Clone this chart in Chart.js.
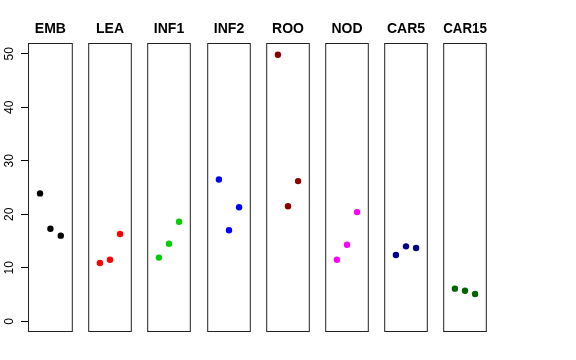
<!DOCTYPE html>
<html>
<head>
<meta charset="utf-8">
<script src="https://cdn.jsdelivr.net/npm/chart.js@4/dist/chart.umd.min.js"></script>
<style>
  html, body { margin: 0; padding: 0; background: #fff; }
  #wrap { position: relative; width: 576px; height: 360px; overflow: hidden; }
  #wrap canvas { position: absolute; top: 0; }
</style>
</head>
<body>
<div id="wrap"></div>
<script>
const groups = ["EMB", "LEA", "INF1", "INF2", "ROO", "NOD", "CAR5", "CAR15"];
const colors = ["#000000", "#FF0000", "#00CD00", "#0000FF", "#8B0000", "#FF00FF", "#00008B", "#006400"];
const xPositions = [1, 2, 3];
const embValues = [23.9, 17.3, 16.0];
const leaValues = [10.9, 11.5, 16.3];
const inf1Values = [11.9, 14.5, 18.6];
const inf2Values = [26.5, 17.0, 21.3];
const rooValues = [49.8, 21.5, 26.2];
const nodValues = [11.5, 14.3, 20.4];
const car5Values = [12.4, 14.0, 13.7];
const car15Values = [6.1, 5.7, 5.1];
const yTicks = [0, 10, 20, 30, 40, 50];

const series = [embValues, leaValues, inf1Values, inf2Values, rooValues, nodValues, car5Values, car15Values];

const font = "'Liberation Sans', Arial, Helvetica, sans-serif";

// frame round each panel
const boxPlugin = {
  id: "box",
  afterDraw(chart) {
    const a = chart.chartArea;
    const ctx = chart.ctx;
    ctx.save();
    ctx.strokeStyle = "#222";
    ctx.lineWidth = 1;
    ctx.strokeRect(a.left + 0.5, a.top + 0.5, a.right - a.left - 1, a.bottom - a.top - 1);
    ctx.restore();
  },
};

const wrap = document.getElementById("wrap");

groups.forEach(function (name, i) {
  const first = i === 0;
  const axisW = 28;
  const panelW = 46;
  const canvas = document.createElement("canvas");
  const left = first ? 0 : Math.round(axisW + 59.2 * i) - 2;
  const width = first ? axisW + panelW + 2 : panelW + 4;
  canvas.style.left = left + "px";
  canvas.style.width = width + "px";
  canvas.style.height = "360px";
  canvas.width = width;
  canvas.height = 360;
  wrap.appendChild(canvas);

  new Chart(canvas, {
    type: "scatter",
    data: {
      datasets: [
        {
          data: series[i].map((v, j) => ({ x: xPositions[j], y: v })),
          backgroundColor: colors[i],
          borderWidth: 0,
          pointRadius: 3.2,
          pointHoverRadius: 3.2,
        },
      ],
    },
    options: {
      responsive: false,
      animation: false,
      events: [],
      layout: { padding: { left: first ? 0 : 2, right: 2, top: 0, bottom: 28 } },
      plugins: {
        legend: { display: false },
        tooltip: { enabled: false },
        title: {
          display: true,
          text: name,
          fullSize: false,
          color: "#000",
          font: { family: font, size: 14, weight: "bold", lineHeight: 1 },
          padding: { top: 22, bottom: 7 },
        },
      },
      scales: {
        x: {
          type: "linear",
          display: false,
          min: -0.16,
          max: 4.16,
        },
        y: {
          type: "linear",
          display: first,
          min: -2,
          max: 52,
          afterBuildTicks: (s) => {
            s.ticks = yTicks.map((v) => ({ value: v }));
          },
          afterFit: (s) => {
            if (first) s.width = axisW;
          },
          border: { display: false },
          grid: {
            drawOnChartArea: false,
            drawTicks: true,
            tickLength: 7,
            color: "#000",
            lineWidth: 1,
          },
          ticks: {
            minRotation: 90,
            maxRotation: 90,
            crossAlign: "center",
            padding: 5,
            color: "#000",
            font: { family: font, size: 12 },
          },
        },
      },
    },
    plugins: [boxPlugin],
  });
});
</script>
</body>
</html>
